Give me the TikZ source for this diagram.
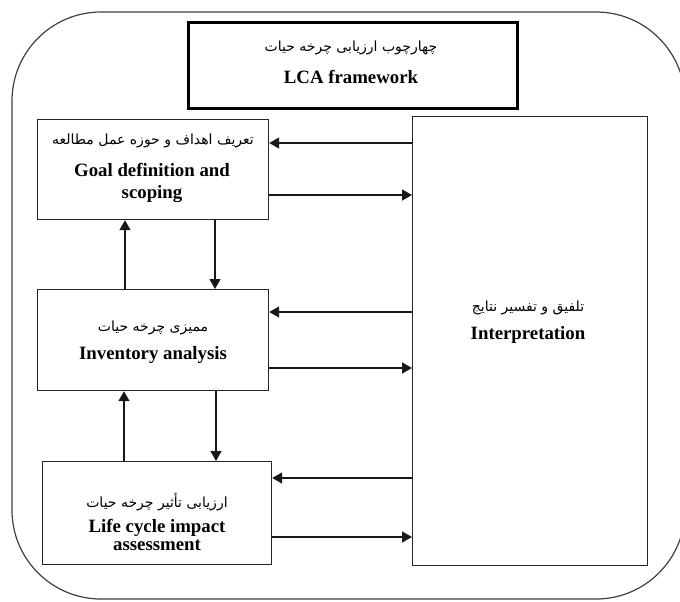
\documentclass[tikz,border=0pt]{standalone}
\usepackage{fontspec}
\setmainfont{Liberation Serif}
\newfontfamily\fa[Script=Arabic]{DejaVu Sans}
\TeXXeTstate=1
\usetikzlibrary{arrows.meta}
\begin{document}
\begin{tikzpicture}[x=0.5pt,y=-0.5pt,
  box/.style={draw=black!85, line width=0.6pt, fill=white, inner sep=0pt, anchor=north west},
  fatext/.style={inner sep=0pt, font=\fa\fontsize{7}{8}\selectfont},
  entext/.style={inner sep=0pt, align=center, font=\fontsize{9.4}{11}\selectfont\bfseries},
  arr/.style={line width=0.75pt, draw=black!90, -{Triangle[length=5pt,width=5.5pt]}}]
\useasboundingbox (0,0) rectangle (680,601);
\fill[white] (0,0) rectangle (680,601);
% outer frame
\draw[black!75, line width=0.6pt, rounded corners=44.5pt] (12,12) rectangle (685,599);
% boxes
\node[box, line width=1.3pt, draw=black, minimum width=164.5pt, minimum height=43pt] (title) at (187,21) {};
\node[box, minimum width=115.5pt, minimum height=50pt] (goal) at (37,119) {};
\node[box, minimum width=115.5pt, minimum height=50.5pt] (inv) at (37,289) {};
\node[box, minimum width=114.5pt, minimum height=51.5pt] (lcia) at (42,461) {};
\node[box, minimum width=117.5pt, minimum height=224.5pt] (interp) at (412,116) {};
% texts
\node[fatext] (titlefa) at (351,48) {\beginR چهارچوب ارزیابی چرخه حیات\endR};
\node[entext] (titleen) at (351,77) {LCA framework};
\node[fatext] (goalfa) at (153,141) {\beginR تعریف اهداف و حوزه عمل مطالعه\endR};
\node[entext] (goalen) at (152,183) {Goal definition and\\scoping};
\node[fatext] (invfa) at (153,328) {\beginR ممیزی چرخه حیات\endR};
\node[entext] (inven) at (153,355) {Inventory analysis};
\node[fatext] (lciafa) at (157,502) {\beginR ارزیابی تأثیر چرخه حیات\endR};
\node[entext, font=\fontsize{9.4}{8.6}\selectfont\bfseries] (lciaen) at (157,535) {Life cycle impact\\assessment};
\node[fatext] (interpfa) at (528,308) {\beginR تلفیق و تفسیر نتایج\endR};
\node[entext] (interpen) at (528,335) {Interpretation};
% helper coordinates
\coordinate (h1) at (0,143);
\coordinate (h2) at (0,195);
\coordinate (h3) at (0,312);
\coordinate (h4) at (0,368);
\coordinate (h5) at (0,478);
\coordinate (h6) at (0,537);
\coordinate (v1) at (125,0);
\coordinate (v2) at (215,0);
\coordinate (v3) at (124,0);
\coordinate (v4) at (216,0);
% horizontal connectors
\draw[arr] (interp.west |- h1) -- (goal.east |- h1);
\draw[arr] (goal.east |- h2) -- (interp.west |- h2);
\draw[arr] (interp.west |- h3) -- (inv.east |- h3);
\draw[arr] (inv.east |- h4) -- (interp.west |- h4);
\draw[arr] (interp.west |- h5) -- (lcia.east |- h5);
\draw[arr] (lcia.east |- h6) -- (interp.west |- h6);
% vertical connectors
\draw[arr] (inv.north -| v1) -- (goal.south -| v1);
\draw[arr] (goal.south -| v2) -- (inv.north -| v2);
\draw[arr] (lcia.north -| v3) -- (inv.south -| v3);
\draw[arr] (inv.south -| v4) -- (lcia.north -| v4);
\end{tikzpicture}
\end{document}
